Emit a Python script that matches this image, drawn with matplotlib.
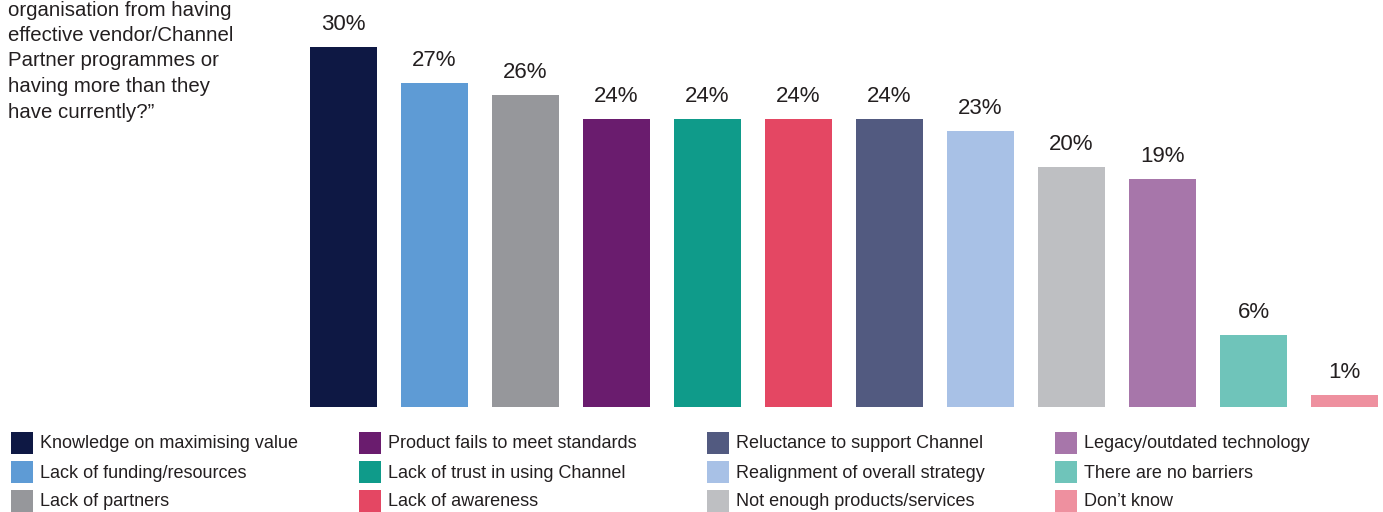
import matplotlib.pyplot as plt
from matplotlib.patches import Rectangle

plt.rcParams['font.family'] = ['Liberation Sans', 'DejaVu Sans']

# survey answers, in the order they are shown
categories = [
    'Knowledge on maximising value',
    'Lack of funding/resources',
    'Lack of partners',
    'Product fails to meet standards',
    'Lack of trust in using Channel',
    'Lack of awareness',
    'Reluctance to support Channel',
    'Realignment of overall strategy',
    'Not enough products/services',
    'Legacy/outdated technology',
    'There are no barriers',
    'Don\u2019t know',
]
values = [30, 27, 26, 24, 24, 24, 24, 23, 20, 19, 6, 1]
colors = ['#0E1844', '#5E9BD5', '#96979B', '#6A1C6E', '#0F9B8A', '#E44763',
          '#525A80', '#A8C1E6', '#BEBFC2', '#A776AA', '#6FC4BA', '#EE909F']

question_lines = [
    'organisation from having',
    'effective vendor/Channel',
    'Partner programmes or',
    'having more than they',
    'have currently?\u201d',
]

W, H = 1383, 512
text_color = '#231F20'

fig = plt.figure(figsize=(W / 100, H / 100), dpi=100)

# bar axes: 91 px per category, 12 px per percentage point
slot = 91
ax = fig.add_axes([298 / W, (H - 407) / H, 12 * slot / W, 407 / H])
x = range(len(values))
ax.bar(x, values, width=67 / slot, color=colors)
for xi, v in zip(x, values):
    ax.text(xi, v + 1.9, f'{v}%', ha='center', va='center',
            fontsize=16, color=text_color)
ax.set_xlim(-0.5, len(values) - 0.5)
ax.set_ylim(0, 407 / 12)
ax.axis('off')

# overlay in pixel coordinates for the question text and legend
ov = fig.add_axes([0, 0, 1, 1])
ov.set_xlim(0, W)
ov.set_ylim(H, 0)
ov.axis('off')

for i, line in enumerate(question_lines):
    ov.text(8, 10 + i * 25.5, line, ha='left', va='center',
            fontsize=14.7, color=text_color)

for i, (label, c) in enumerate(zip(categories, colors)):
    col, row = i // 3, i % 3
    x0 = 11 + col * 348
    y0 = 432 + row * 29
    ov.add_patch(Rectangle((x0, y0), 22, 22, color=c, lw=0))
    ov.text(x0 + 29, y0 + 12, label, ha='left', va='center',
            fontsize=13, color=text_color)

fig.savefig('out.png', dpi=100)
